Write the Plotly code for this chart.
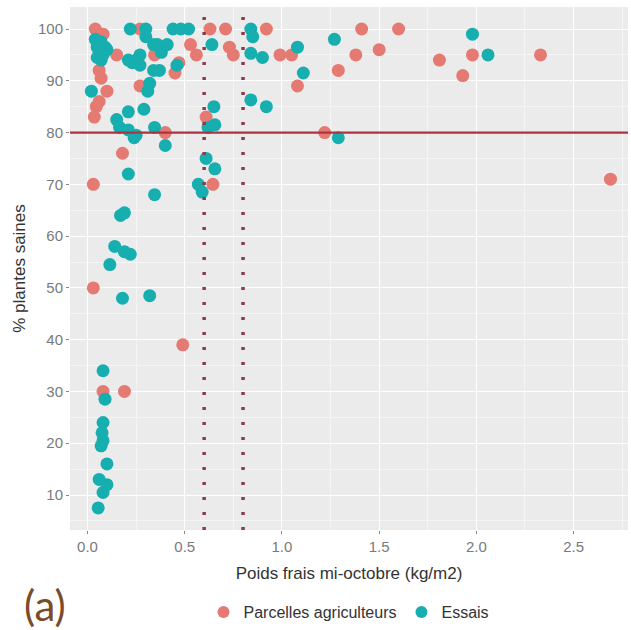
import plotly.graph_objects as go

# Parcelles agriculteurs (red)
parc_x = [0.04, 0.08, 0.15, 0.06, 0.07, 0.10, 0.06, 0.045, 0.035, 0.27, 0.345, 0.27,
          0.47, 0.45, 0.53, 0.56, 0.63, 0.71, 0.73, 0.75, 0.92, 0.99, 1.05, 1.08,
          1.29, 1.38, 1.41, 1.50, 1.60, 1.81, 1.93, 1.98, 2.33, 1.22, 2.69, 0.40,
          0.18, 0.03, 0.645, 0.61, 0.03, 0.49, 0.19, 0.08]
parc_y = [100, 99, 95, 92, 90.5, 88, 86, 85, 83, 100, 95, 89,
          93.5, 91.5, 97, 95, 100, 100, 96.5, 95, 100, 95, 95, 89,
          92, 95, 100, 96, 100, 94, 91, 95, 95, 80, 71, 80,
          76, 70, 70, 83, 50, 39, 30, 30]

# Essais (teal)
ess_x = [0.84, 0.85, 0.84, 0.90, 1.08, 1.11, 1.27, 1.98, 2.06, 0.84, 0.92, 1.29,
         0.22, 0.30, 0.44, 0.48, 0.52, 0.04, 0.07, 0.05, 0.09, 0.06, 0.08, 0.05,
         0.07, 0.10, 0.02, 0.21, 0.29, 0.15, 0.165, 0.21, 0.25, 0.24, 0.345, 0.40,
         0.31, 0.32, 0.21, 0.25, 0.27, 0.34, 0.37, 0.30, 0.34, 0.41, 0.38, 0.46,
         0.23, 0.27, 0.36, 0.64, 0.65, 0.655, 0.62, 0.21, 0.345, 0.61, 0.655, 0.57,
         0.59, 0.17, 0.19, 0.14, 0.19, 0.22, 0.115, 0.18, 0.32, 0.08, 0.09, 0.08,
         0.075, 0.07, 0.08, 0.10, 0.06, 0.10, 0.08, 0.055]
ess_y = [100, 98.5, 95.3, 94.5, 96.5, 91.5, 98, 99, 95, 86.3, 85, 79,
         100, 100, 100, 100, 100, 98, 97.5, 96.5, 96.5, 95.5, 95, 94.5,
         94, 96, 88, 84, 84.5, 82.5, 81, 80.5, 79.5, 79, 81, 77.5,
         88, 89.5, 94, 94, 95, 92, 92, 98.5, 97, 97, 95.5, 93,
         93.5, 93, 97, 97, 85, 81.5, 81, 72, 68, 75, 73, 70,
         68.5, 64, 64.5, 58, 57, 56.5, 54.5, 48, 48.5, 34, 28.5, 24,
         22, 19.5, 20.5, 16, 13, 12, 10.5, 7.5]

x_ticks = [0.0, 0.5, 1.0, 1.5, 2.0, 2.5]
x_ticklabels = ["0.0", "0.5", "1.0", "1.5", "2.0", "2.5"]
y_ticks = [10, 20, 30, 40, 50, 60, 70, 80, 90, 100]
h_threshold = 80
v_thresholds = [0.6, 0.8]

RED = "#E57A72"
TEAL = "#17AEB0"

fig = go.Figure()
fig.add_trace(go.Scatter(x=parc_x, y=parc_y, mode="markers", name="Parcelles agriculteurs",
                         marker=dict(color=RED, size=13, line=dict(width=0))))
fig.add_trace(go.Scatter(x=ess_x, y=ess_y, mode="markers", name="Essais",
                         marker=dict(color=TEAL, size=13, line=dict(width=0))))

fig.add_hline(y=h_threshold, line=dict(color="#AA3442", width=2.2))
for v in v_thresholds:
    fig.add_vline(x=v, line=dict(color="#8E3A48", width=3.5, dash="3px,12px"))

font_family = "Liberation Sans, Arial, sans-serif"
fig.update_layout(
    width=631, height=630,
    margin=dict(l=70, r=3, t=7, b=100, autoexpand=False),
    paper_bgcolor="white",
    plot_bgcolor="#EBEBEB",
    font=dict(family=font_family, size=15, color="#333333"),
    showlegend=True,
    legend=dict(orientation="h", x=0.5, xanchor="center", y=-0.157, yanchor="middle",
                font=dict(size=16, color="#333333"), itemsizing="constant",
                bgcolor="rgba(0,0,0,0)"),
    xaxis=dict(range=[-0.09, 2.78], tickvals=x_ticks, ticktext=x_ticklabels,
               automargin=False,
               showgrid=True, gridcolor="white", gridwidth=1.2,
               minor=dict(showgrid=True, gridcolor="#F5F5F5", gridwidth=0.6, dtick=0.25),
               zeroline=False, ticks="outside", ticklen=3, tickcolor="#888888",
               tickfont=dict(size=15, color="#7A7A7A"),
               title=dict(text="Poids frais mi-octobre (kg/m2)", standoff=13,
                          font=dict(size=17, color="#333333"))),
    yaxis=dict(range=[3.24, 104.25], tickvals=y_ticks,
               automargin=False,
               showgrid=True, gridcolor="white", gridwidth=1.2,
               minor=dict(showgrid=True, gridcolor="#F5F5F5", gridwidth=0.6, dtick=5),
               zeroline=False, ticks="outside", ticklen=3, tickcolor="#888888",
               tickfont=dict(size=15, color="#7A7A7A"),
               title=dict(text="% plantes saines", standoff=8,
                          font=dict(size=17, color="#333333"))),
)

fig.add_annotation(text="(a)", xref="paper", yref="paper", x=-0.045, y=-0.143,
                   xanchor="center", yanchor="middle", showarrow=False,
                   font=dict(family="Lato, sans-serif", size=42, color="#7B4B2A"))

fig.write_html("out.html", config={"displayModeBar": False},
               post_script="document.body.style.margin='0';document.body.style.padding='0';")
